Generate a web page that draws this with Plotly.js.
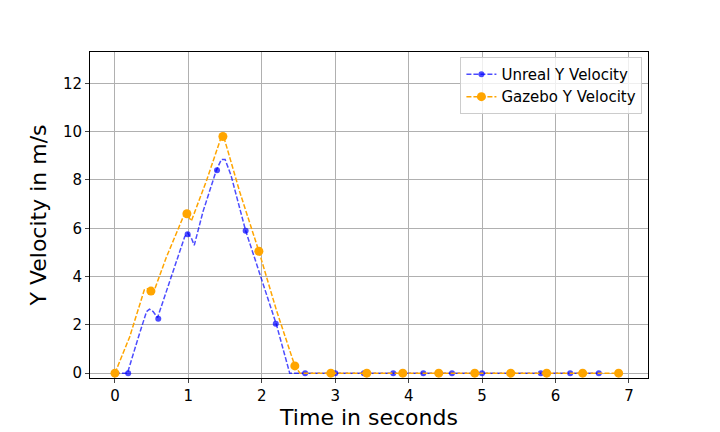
<!DOCTYPE html>
<html>
<head>
<script src="https://cdn.plot.ly/plotly-3.0.1.min.js"></script>
<style>body{margin:0;background:#fff}</style>
</head>
<body>
<div id="plot" style="width:720px;height:432px"></div>
<script>
// Unreal curve and its sparse markers
const unrealLineX = [0, 0.17, 0.32, 0.43, 0.47, 0.52, 0.58, 0.8, 0.95, 0.99, 1.04, 1.08, 1.2, 1.38, 1.45, 1.5, 1.58, 1.78, 2.0, 2.2, 2.38, 2.6, 6.6];
const unrealLineY = [0, 0, 1.5, 2.55, 2.65, 2.55, 2.3, 4.3, 5.65, 5.8, 5.6, 5.3, 6.7, 8.4, 8.85, 8.85, 8.2, 5.9, 3.9, 2.0, 0, 0, 0];
const unrealMarkX = [0.18, 0.59, 0.99, 1.39, 1.78, 2.19, 2.59, 3.0, 3.39, 3.79, 4.2, 4.59, 5.0, 5.4, 5.8, 6.2, 6.59];
const unrealMarkY = [0, 2.25, 5.75, 8.4, 5.9, 2.05, 0, 0, 0, 0, 0, 0, 0, 0, 0, 0, 0];

// Gazebo curve and its sparse markers
const gazeboLineX = [0, 0.2, 0.4, 0.45, 0.52, 0.7, 0.94, 0.98, 1.04, 1.25, 1.45, 1.49, 1.7, 1.96, 2.2, 2.45, 2.52, 6.86];
const gazeboLineY = [0, 1.5, 3.45, 3.5, 3.3, 4.8, 6.55, 6.6, 6.3, 8.0, 9.8, 9.7, 7.5, 5.05, 2.6, 0.3, 0, 0];
const gazeboMarkX = [0, 0.49, 0.98, 1.47, 1.96, 2.45, 2.94, 3.43, 3.92, 4.41, 4.9, 5.39, 5.88, 6.37, 6.86];
const gazeboMarkY = [0, 3.4, 6.6, 9.8, 5.05, 0.3, 0, 0, 0, 0, 0, 0, 0, 0, 0];

const blue = "rgba(0,0,255,0.7)";
const orange = "#ffa500";
const dash = "5px,2px";

const traces = [
  {x: unrealLineX, y: unrealLineY, mode: "lines", line: {color: blue, dash: dash, width: 1.5}, showlegend: false},
  {x: unrealMarkX, y: unrealMarkY, mode: "markers", marker: {color: blue, size: 6}, showlegend: false},
  {x: gazeboLineX, y: gazeboLineY, mode: "lines", line: {color: orange, dash: dash, width: 1.5}, showlegend: false},
  {x: gazeboMarkX, y: gazeboMarkY, mode: "markers", marker: {color: orange, size: 9}, showlegend: false},
  {x: [null], y: [null], mode: "lines+markers", name: "Unreal Y Velocity", line: {color: blue, dash: dash, width: 1.5}, marker: {color: blue, size: 6}},
  {x: [null], y: [null], mode: "lines+markers", name: "Gazebo Y Velocity", line: {color: orange, dash: dash, width: 1.5}, marker: {color: orange, size: 9}}
];

const layout = {
  width: 720, height: 432,
  margin: {l: 90, r: 72, t: 52, b: 54},
  font: {family: "DejaVu Sans", color: "#000"},
  paper_bgcolor: "#fff", plot_bgcolor: "#fff",
  xaxis: {
    range: [-0.34, 7.26], tickvals: [0,1,2,3,4,5,6,7], tickfont: {size: 15},
    title: {text: "Time in seconds", font: {size: 22}, standoff: 4},
    showgrid: true, gridcolor: "#b0b0b0", zeroline: false,
    showline: true, mirror: true, linecolor: "#000", ticks: "outside", ticklen: 4
  },
  yaxis: {
    range: [-0.2, 13.3], tickvals: [0,2,4,6,8,10,12], tickfont: {size: 15},
    title: {text: "Y Velocity in m/s", font: {size: 22}, standoff: 10},
    showgrid: true, gridcolor: "#b0b0b0", zeroline: false,
    showline: true, mirror: true, linecolor: "#000", ticks: "outside", ticklen: 4
  },
  legend: {x: 0.99, y: 0.985, xanchor: "right", yanchor: "top", font: {size: 15},
    bordercolor: "#ccc", borderwidth: 1, bgcolor: "rgba(255,255,255,0.8)"}
};

Plotly.newPlot("plot", traces, layout, {displayModeBar: false});
</script>
</body>
</html>
